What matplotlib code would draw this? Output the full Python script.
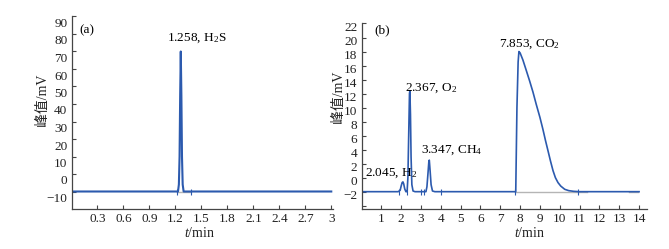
import matplotlib
matplotlib.use("Agg")
import matplotlib.pyplot as plt
import matplotlib.transforms as mtransforms

plt.rcParams['font.family'] = ['Liberation Serif', 'Noto Sans CJK SC']
plt.rcParams['mathtext.fontset'] = 'custom'
plt.rcParams['mathtext.rm'] = 'Liberation Serif'
plt.rcParams['mathtext.it'] = 'Liberation Serif:italic'
plt.rcParams['font.size'] = 9.5

# === (a) H2S chromatogram ===
t_a = [0, 1.20, 1.230, 1.240, 1.248, 1.255, 1.262, 1.269, 1.276, 1.284, 1.295, 1.37, 3.0]
v_a = [-10, -10, -10, -6, 10, 45, 70, 45, 10, -6, -10, -10, -10]
marks_a = [1.216, 1.377]
grey_a = [1.216, 1.377]

# === (b) H2 / O2 / CH4 / CO2 chromatogram ===
t_b = [0, 1.85, 1.95, 2.00, 2.05, 2.09, 2.13, 2.18, 2.24, 2.28,
       2.30, 2.34, 2.38, 2.42, 2.44, 2.47, 2.50, 2.54, 2.60, 2.70,
       3.25, 3.30, 3.35, 3.40, 3.42, 3.46, 3.51, 3.58, 3.70,
       7.78, 7.84, 7.90, 7.94, 8.00, 8.14, 8.30, 8.48, 8.65, 8.81, 9.00,
       9.15, 9.28, 9.41, 9.53, 9.66, 9.78, 9.91, 10.05, 10.25, 10.45,
       10.70, 11.0, 14.0]
v_b = [-2, -2, -1.8, -1.2, -0.7, -0.6, -0.9, -1.6, -2.0, -2.0,
       -2, 0, 6, 12.0, 12.4, 9, 3, -1, -1.9, -2,
       -2, -1.3, 0.5, 2.4, 2.5, 1.0, -1.0, -1.9, -2,
       -2, 10.0, 16.5, 18.0, 17.8, 16.8, 15.4, 13.8, 12.2, 10.5, 8.6,
       6.9, 5.3, 3.8, 2.4, 1.0, 0.0, -0.7, -1.2, -1.66, -1.85,
       -1.95, -2, -2]
marks_b = [1.89, 2.28, 2.99, 3.16, 4.0, 7.72, 10.9]
grey_b = [[7.72, 11.35], [13.5, 13.95]]

labels_b = [("2.045, H$_2$", 0.2, 0.67), ("2.367, O$_2$", 2.18, 12.7),
            ("3.347, CH$_4$", 3.02, 3.96)]

blue = '#2c5aae'
spine_c = '#454545'

fig = plt.figure(figsize=(6.69, 2.49), dpi=100)
W, H = 669, 249
ax1 = fig.add_axes([71.5 / W, 1 - 209 / H, 261.5 / W, 192.5 / H])
ax2 = fig.add_axes([361.5 / W, 1 - 208.5 / H, 285.5 / W, 185 / H])


def style(ax, dy):
    for s in ['top', 'right']:
        ax.spines[s].set_visible(False)
    for s in ['left', 'bottom']:
        ax.spines[s].set_color(spine_c)
        ax.spines[s].set_linewidth(0.9)
    ax.tick_params(direction='in', length=3, width=0.8, color=spine_c,
                   labelcolor='#222222', labelsize=9.5, pad=3)
    off = mtransforms.ScaledTranslation(0, -dy / 100, fig.dpi_scale_trans)
    for lab in ax.get_yticklabels():
        lab.set_transform(lab.get_transform() + off)


# (a)
ax1.plot(grey_a, [-10, -10], color='#b5b5b5', lw=1.0, zorder=1)
ax1.plot(t_a, v_a, color=blue, lw=1.5, zorder=2)
ax1.plot(marks_a, [-10] * len(marks_a), ls='none', marker='|', ms=4,
         mew=0.8, color=blue, zorder=3)
ax1.set_xlim(0, 3.02)
ax1.set_ylim(-20, 90)
ax1.set_xticks([0.3, 0.6, 0.9, 1.2, 1.5, 1.8, 2.1, 2.4, 2.7, 3.0])
ax1.set_xticklabels(['0.3', '0.6', '0.9', '1.2', '1.5', '1.8', '2.1', '2.4', '2.7', '3'])
ax1.set_yticks(range(-10, 91, 10))
ax1.set_yticklabels(['\u221210'] + [str(v) for v in range(0, 91, 10)])
ax1.text(0.09, 82.3, "(a)", ha='left', va='center')
ax1.text(1.446, 77.7, "1.258, H$_2$S", ha='center', va='center')
style(ax1, 6)

# (b)
for seg in grey_b:
    ax2.plot(seg, [-2, -2], color='#b5b5b5', lw=1.0, zorder=1)
ax2.plot(t_b, v_b, color=blue, lw=1.2, zorder=2)
ax2.plot(marks_b, [-2] * len(marks_b), ls='none', marker='|', ms=4,
         mew=0.8, color=blue, zorder=3)
ax2.set_xlim(0, 14.4)
ax2.set_ylim(-4.4, 22)
ax2.set_xticks(range(1, 15))
ax2.set_yticks(range(-4, 23, 2))
ax2.set_yticklabels([''] + ['\u22122'] + [str(v) for v in range(0, 23, 2)])
ax2.text(0.66, 21.0, "(b)", ha='left', va='center')
ax2.text(8.46, 19.1, "7.853, CO$_2$", ha='center', va='center')
for txt, x, y in labels_b:
    ax2.text(x, y, txt, ha='left', va='center')
style(ax2, 3)

# axis titles
for x, y in [(42, 100), (338, 97)]:
    fig.text(x / W, 1 - y / H, "峰值/mV", rotation=90, ha='center', va='center',
             fontsize=10, color='#222222')
for x in [200, 530]:
    fig.text(x / W, 1 - 233 / H, "$t$/min", ha='center', va='center', fontsize=10,
             color='#222222')

fig.savefig("out.png", dpi=100)
